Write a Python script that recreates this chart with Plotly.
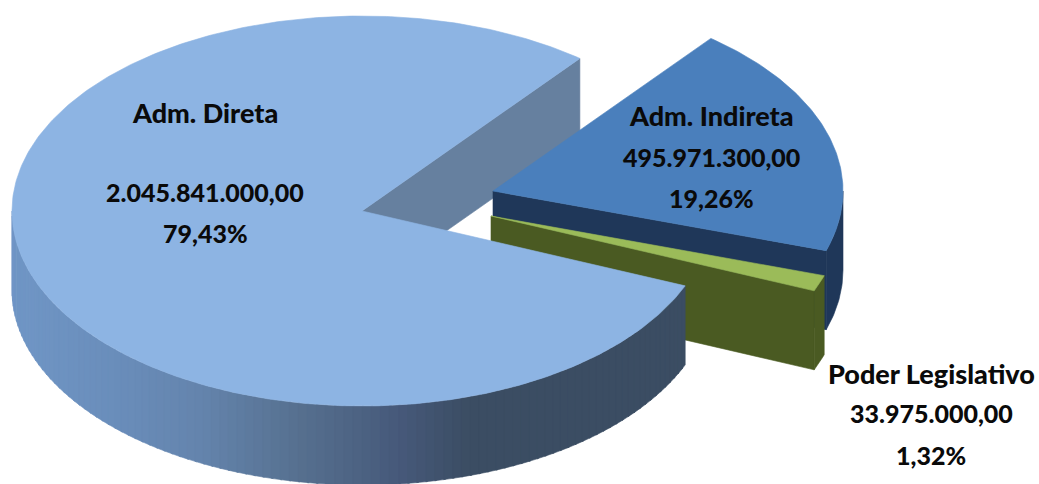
import math
import plotly.graph_objects as go

# --- data -----------------------------------------------------------------
categories = ["Adm. Direta", "Adm. Indireta", "Poder Legislativo"]
values = [2045841000.00, 495971300.00, 33975000.00]
value_labels = ["2.045.841.000,00", "495.971.300,00", "33.975.000,00"]
percent_labels = ["79,43%", "19,26%", "1,32%"]

# --- styles / geometry of the tilted pie ----------------------------------
CX, CY, A, B, DEPTH = 362.0, 211.0, 350.0, 195.0, 79.0
FIRST_ANGLE = 51.5          # screen angle where the Adm. Indireta slice begins
OFFSETS = {"Adm. Direta": (0, 0), "Adm. Indireta": (131, -20), "Poder Legislativo": (129, 5)}
TOP = {"Adm. Direta": "#8DB4E3", "Adm. Indireta": "#4A7FBC", "Poder Legislativo": "#9BBB59"}
WALL = {"Adm. Direta": "#66809F", "Adm. Indireta": "#1F3759", "Poder Legislativo": "#4A5A22"}
SIDE_STOPS = [(12, (112, 150, 198)), (110, (106, 142, 187)), (200, (100, 132, 173)),
              (300, (86, 112, 143)), (400, (70, 89, 122)), (470, (59, 77, 99)), (700, (59, 77, 99))]
TEXT_POS = {"Adm. Direta": (205, [112, 192, 233]),
            "Adm. Indireta": (711, [115, 157, 198]),
            "Poder Legislativo": (931, [373, 413, 455])}
NAME_SIZE, VALUE_SIZE = 27, 25

total = sum(values)
sweep = {c: v / total * 360.0 for c, v in zip(categories, values)}
ind_start = FIRST_ANGLE
ind_end = ind_start - sweep["Adm. Indireta"]
leg_start = ind_end
leg_end = leg_start - sweep["Poder Legislativo"]
main_start = FIRST_ANGLE
main_end = main_start + sweep["Adm. Direta"]


def pt(angle, off=(0, 0), dz=0.0):
    t = math.radians(angle)
    return (CX + off[0] + A * math.cos(t), CY + off[1] - B * math.sin(t) + dz)


def arc(a0, a1, off=(0, 0), dz=0.0, n=None):
    n = n or max(2, int(abs(a1 - a0) / 0.75))
    return [pt(a0 + (a1 - a0) * i / n, off, dz) for i in range(n + 1)]


fig = go.Figure()


def poly(points, color):
    fig.add_trace(go.Scatter(x=[p[0] for p in points] + [points[0][0]],
                             y=[p[1] for p in points] + [points[0][1]],
                             mode="lines", fill="toself", fillcolor=color,
                             line=dict(color=color, width=0.6),
                             hoverinfo="skip", showlegend=False))


def side_color(x):
    for (x0, c0), (x1, c1) in zip(SIDE_STOPS, SIDE_STOPS[1:]):
        if x <= x1:
            f = max(0.0, (x - x0) / (x1 - x0))
            return "rgb(%d,%d,%d)" % tuple(round(c0[i] + (c1[i] - c0[i]) * f) for i in range(3))
    return "rgb(%d,%d,%d)" % SIDE_STOPS[-1][1]


def wall(off, angle, color):
    apex = (CX + off[0], CY + off[1])
    e = pt(angle, off)
    poly([apex, e, (e[0], e[1] + DEPTH), (apex[0], apex[1] + DEPTH)], color)


def rim(a0, a1, off, color):
    poly(arc(a0, a1, off) + arc(a1, a0, off, DEPTH), color)


def sector(a0, a1, off, color):
    poly([(CX + off[0], CY + off[1])] + arc(a0, a1, off), color)


# main slice: rear cut wall
wall(OFFSETS["Adm. Direta"], main_start, WALL["Adm. Direta"])

# Adm. Indireta
o = OFFSETS["Adm. Indireta"]
rim(ind_end, max(ind_end, 0.0), o, WALL["Adm. Indireta"])
wall(o, ind_end, WALL["Adm. Indireta"])
sector(ind_start, ind_end, o, TOP["Adm. Indireta"])

# Poder Legislativo
o = OFFSETS["Poder Legislativo"]
wall(o, leg_end, WALL["Poder Legislativo"])
rim(leg_end, leg_start, o, WALL["Poder Legislativo"])
sector(leg_start, leg_end, o, TOP["Poder Legislativo"])

# main slice: rim with horizontal shading, then the top
o = OFFSETS["Adm. Direta"]
a = 180.0
while a < main_end - 1e-6:
    b = min(a + 1.5, main_end)
    mid = pt((a + b) / 2)
    rim(a, min(b + 0.3, main_end), o, side_color(mid[0]))
    a = b
sector(main_start, main_end, o, TOP["Adm. Direta"])

# labels
annotations = []
for cat, val, pct in zip(categories, value_labels, percent_labels):
    x, ys = TEXT_POS[cat]
    for line, y, size in zip([cat, val, pct], ys, [NAME_SIZE, VALUE_SIZE, VALUE_SIZE]):
        annotations.append(dict(x=x, y=y, xref="x", yref="y", text=line,
                                showarrow=False, xanchor="center", yanchor="middle",
                                font=dict(family="Lato, sans-serif", size=size, weight=900, color="#0a0a0a")))

fig.update_layout(
    width=1039, height=484, margin=dict(l=0, r=0, t=0, b=0),
    paper_bgcolor="white", plot_bgcolor="white", showlegend=False,
    xaxis=dict(range=[0, 1039], visible=False, fixedrange=True),
    yaxis=dict(range=[484, 0], visible=False, fixedrange=True),
    annotations=annotations,
)

fig.write_html("out.html", config={"displayModeBar": False},
               post_script="document.body.style.margin='0';document.body.style.overflow='hidden';")
